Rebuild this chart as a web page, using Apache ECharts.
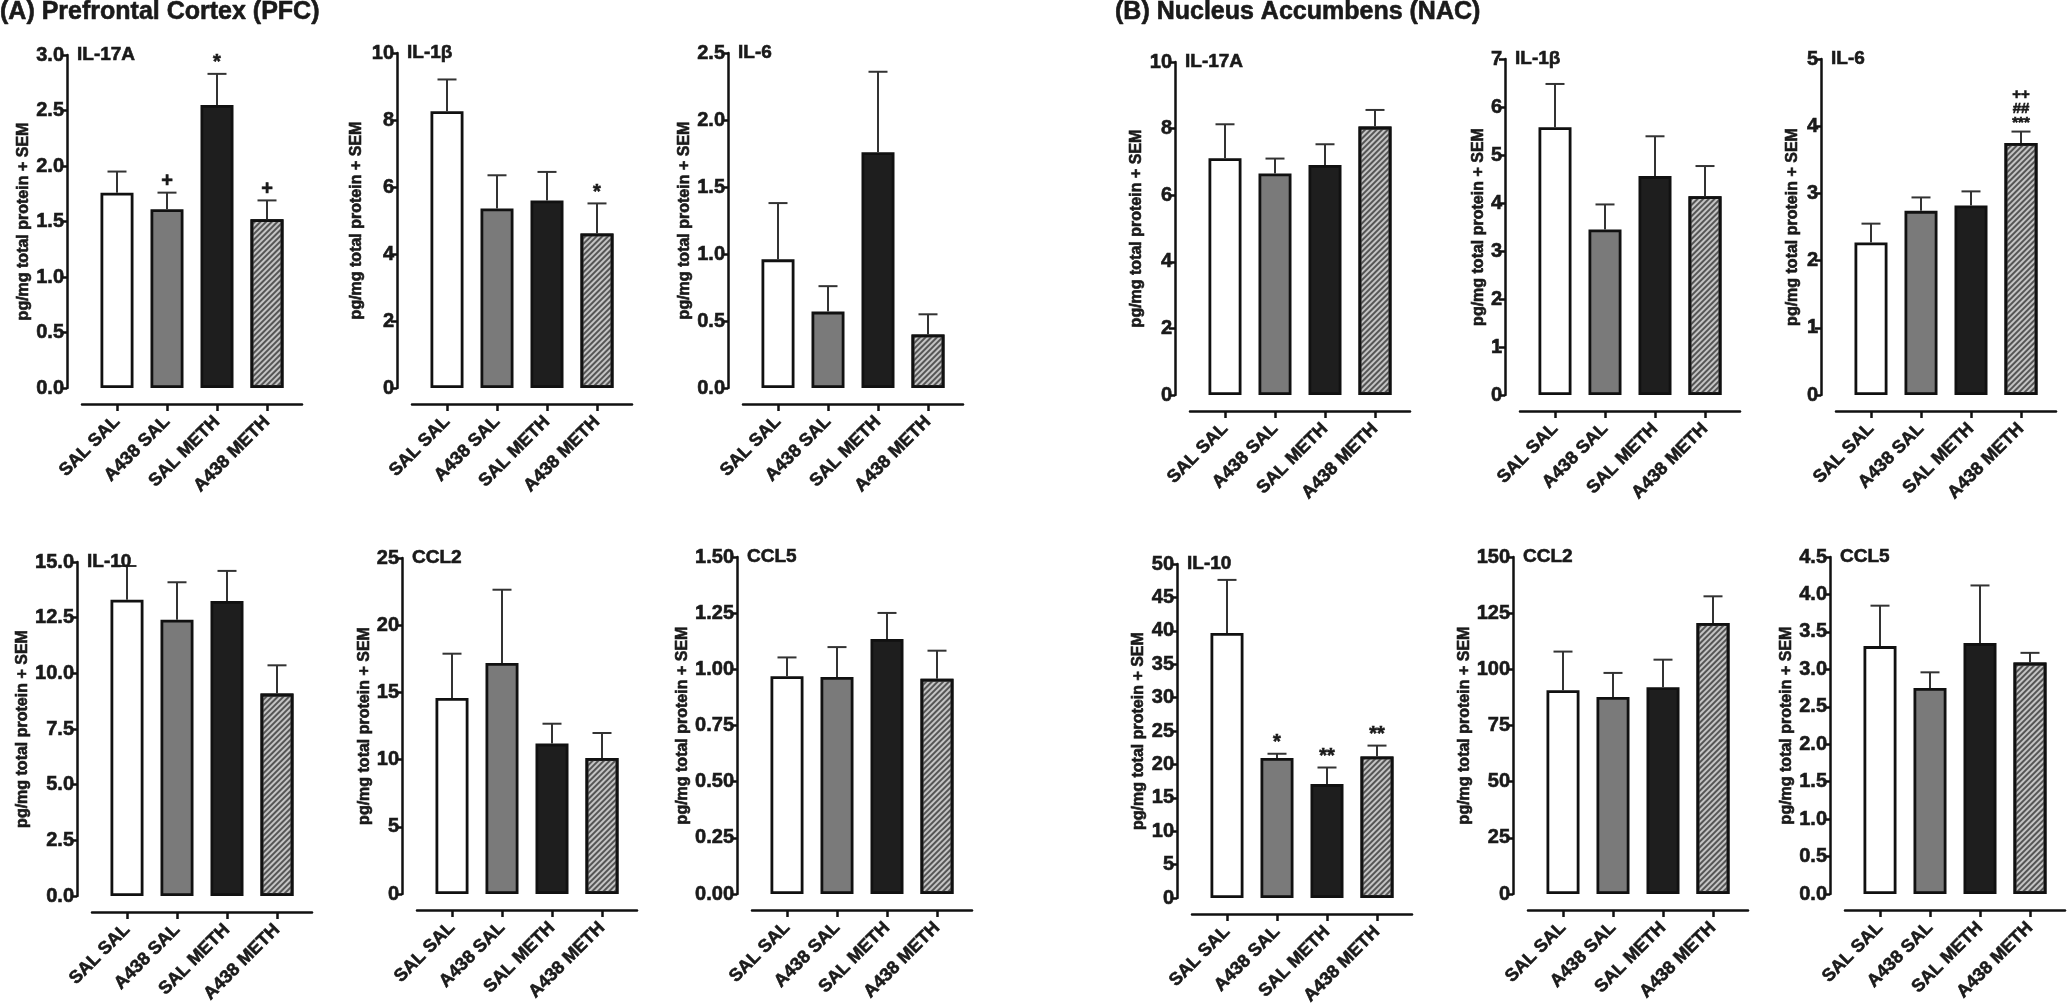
<!DOCTYPE html>
<html>
<head>
<meta charset="utf-8">
<script src="https://cdn.jsdelivr.net/npm/echarts@6/dist/echarts.min.js"></script>
<style>
html,body{margin:0;padding:0;background:#fff;}
#chart{width:2070px;height:1008px;}
</style>
</head>
<body>
<div id="chart"></div>
<script>
// ---------- DATA ----------
const groups = ['SAL SAL', 'A438 SAL', 'SAL METH', 'A438 METH'];
const yAxisName = 'pg/mg total protein + SEM';
const regionTitles = ['(A) Prefrontal Cortex (PFC)', '(B) Nucleus Accumbens (NAC)'];

// PFC
const pfcIL17A_mean = [1.76, 1.61, 2.55, 1.52];
const pfcIL17A_sem  = [0.19, 0.15, 0.28, 0.17];
const pfcIL17A_sig  = ['', '+', '*', '+'];
const pfcIL17A_axis = [0, 3, 0.5, 1];        // min, max, step, decimals

const pfcIL1b_mean = [8.26, 5.36, 5.60, 4.61];
const pfcIL1b_sem  = [0.95, 0.99, 0.85, 0.90];
const pfcIL1b_sig  = ['', '', '', '*'];
const pfcIL1b_axis = [0, 10, 2, 0];

const pfcIL6_mean = [0.96, 0.57, 1.76, 0.40];
const pfcIL6_sem  = [0.42, 0.19, 0.60, 0.15];
const pfcIL6_sig  = ['', '', '', ''];
const pfcIL6_axis = [0, 2.5, 0.5, 1];

const pfcIL10_mean = [13.31, 12.41, 13.25, 9.09];
const pfcIL10_sem  = [1.51, 1.68, 1.35, 1.27];
const pfcIL10_sig  = ['', '', '', ''];
const pfcIL10_axis = [0, 15, 2.5, 1];

const pfcCCL2_mean = [14.58, 17.19, 11.19, 10.12];
const pfcCCL2_sem  = [3.30, 5.45, 1.48, 1.86];
const pfcCCL2_sig  = ['', '', '', ''];
const pfcCCL2_axis = [0, 25, 5, 0];

const pfcCCL5_mean = [0.969, 0.966, 1.135, 0.958];
const pfcCCL5_sem  = [0.084, 0.133, 0.116, 0.125];
const pfcCCL5_sig  = ['', '', '', ''];
const pfcCCL5_axis = [0, 1.5, 0.25, 2];

// NAC
const nacIL17A_mean = [7.11, 6.65, 6.91, 8.06];
const nacIL17A_sem  = [1.02, 0.45, 0.62, 0.50];
const nacIL17A_sig  = ['', '', '', ''];
const nacIL17A_axis = [0, 10, 2, 0];

const nacIL1b_mean = [5.58, 3.45, 4.56, 4.14];
const nacIL1b_sem  = [0.90, 0.52, 0.83, 0.63];
const nacIL1b_sig  = ['', '', '', ''];
const nacIL1b_axis = [0, 7, 1, 0];

const nacIL6_mean = [2.27, 2.74, 2.82, 3.75];
const nacIL6_sem  = [0.28, 0.20, 0.21, 0.17];
const nacIL6_sig  = ['', '', '', '++\n##\n***'];
const nacIL6_axis = [0, 5, 1, 0];

const nacIL10_mean = [39.68, 20.98, 17.06, 21.18];
const nacIL10_sem  = [7.94, 0.62, 2.48, 1.64];
const nacIL10_sig  = ['', '*', '**', '**'];
const nacIL10_axis = [0, 50, 5, 0];

const nacCCL2_mean = [90.7, 87.7, 92.0, 120.6];
const nacCCL2_sem  = [17.2, 10.7, 12.3, 11.9];
const nacCCL2_sig  = ['', '', '', ''];
const nacCCL2_axis = [0, 150, 25, 0];

const nacCCL5_mean = [3.31, 2.75, 3.35, 3.09];
const nacCCL5_sem  = [0.54, 0.21, 0.77, 0.13];
const nacCCL5_sig  = ['', '', '', ''];
const nacCCL5_axis = [0, 4.5, 0.5, 1];

// ---------- LAYOUT ----------
const panels = [
  {name:'IL-17A', mean:pfcIL17A_mean, sem:pfcIL17A_sem, sig:pfcIL17A_sig, axis:pfcIL17A_axis, yx:67,   top:55,  bottom:388, gap:34},
  {name:'IL-1β',  mean:pfcIL1b_mean,  sem:pfcIL1b_sem,  sig:pfcIL1b_sig,  axis:pfcIL1b_axis,  yx:397,  top:53,  bottom:388, gap:32},
  {name:'IL-6',   mean:pfcIL6_mean,   sem:pfcIL6_sem,   sig:pfcIL6_sig,   axis:pfcIL6_axis,   yx:728,  top:53,  bottom:388, gap:31},
  {name:'IL-17A', mean:nacIL17A_mean, sem:nacIL17A_sem, sig:nacIL17A_sig, axis:nacIL17A_axis, yx:1175, top:62,  bottom:395, gap:30},
  {name:'IL-1β',  mean:nacIL1b_mean,  sem:nacIL1b_sem,  sig:nacIL1b_sig,  axis:nacIL1b_axis,  yx:1505, top:59,  bottom:395, gap:18},
  {name:'IL-6',   mean:nacIL6_mean,   sem:nacIL6_sem,   sig:nacIL6_sig,   axis:nacIL6_axis,   yx:1821, top:59,  bottom:395, gap:20},
  {name:'IL-10',  mean:pfcIL10_mean,  sem:pfcIL10_sem,  sig:pfcIL10_sig,  axis:pfcIL10_axis,  yx:77,   top:562, bottom:896, gap:45},
  {name:'CCL2',   mean:pfcCCL2_mean,  sem:pfcCCL2_sem,  sig:pfcCCL2_sig,  axis:pfcCCL2_axis,  yx:402,  top:558, bottom:894, gap:27},
  {name:'CCL5',   mean:pfcCCL5_mean,  sem:pfcCCL5_sem,  sig:pfcCCL5_sig,  axis:pfcCCL5_axis,  yx:737,  top:557, bottom:894, gap:42},
  {name:'IL-10',  mean:nacIL10_mean,  sem:nacIL10_sem,  sig:nacIL10_sig,  axis:nacIL10_axis,  yx:1177, top:564, bottom:900, gap:30},
  {name:'CCL2',   mean:nacCCL2_mean,  sem:nacCCL2_sem,  sig:nacCCL2_sig,  axis:nacCCL2_axis,  yx:1513, top:557, bottom:894, gap:39},
  {name:'CCL5',   mean:nacCCL5_mean,  sem:nacCCL5_sem,  sig:nacCCL5_sig,  axis:nacCCL5_axis,  yx:1830, top:557, bottom:894, gap:35}
];

const FONT = '"Liberation Sans", Arial, sans-serif';
const TXT = '#1a1a1a';
const HEAVY = {textBorderColor:TXT, textBorderWidth:0.6};
const barStyles = [
  {color:'#ffffff', borderColor:'#111', borderWidth:2.8},
  {color:'#7a7a7a', borderColor:'#111', borderWidth:2.8},
  {color:'#1e1e1e', borderColor:'#111', borderWidth:2.8},
  {color:'#c4c4c4', borderColor:'#111', borderWidth:2.8,
   decal:{symbol:'rect', symbolSize:1, dashArrayX:[1,0], dashArrayY:[2,2], rotation:-Math.PI/4, color:'#555555'}}
];

const grids = [], xAxes = [], yAxes = [], series = [], titles = [];

regionTitles.forEach((t, i) => titles.push({text:t, left:i === 0 ? 0 : 1115, top:0, padding:0,
  textStyle:Object.assign({fontFamily:FONT, fontSize:25, fontWeight:'bold', color:TXT}, HEAVY)}));

panels.forEach((p, k) => {
  grids.push({left:p.yx + 15, width:220, top:p.top, height:p.bottom - p.top, containLabel:false});
  xAxes.push({
    gridIndex:k, type:'value', min:-0.7, max:3.7, offset:16,
    splitLine:{show:false},
    axisLine:{show:true, onZero:false, lineStyle:{color:'#111', width:2.5}},
    axisTick:{show:true, customValues:[0,1,2,3], length:7, lineStyle:{color:'#111', width:2.5}},
    axisLabel:Object.assign({show:true, customValues:[0,1,2,3], rotate:45, margin:15,
      formatter:v => groups[Math.round(v)],
      fontFamily:FONT, fontSize:18, fontWeight:'bold', color:TXT}, HEAVY)
  });
  const dec = p.axis[3];
  yAxes.push({
    gridIndex:k, type:'value', min:p.axis[0], max:p.axis[1], interval:p.axis[2], offset:15,
    splitLine:{show:false},
    axisLine:{show:true, onZero:false, lineStyle:{color:'#111', width:2.5}},
    axisTick:{show:true, length:6, lineStyle:{color:'#111', width:2.5}},
    axisLabel:Object.assign({margin:3, formatter:v => v.toFixed(dec),
      fontFamily:FONT, fontSize:20, fontWeight:'bold', color:TXT}, HEAVY),
    name:yAxisName, nameLocation:'middle', nameGap:p.gap, nameRotate:90,
    nameTextStyle:Object.assign({fontFamily:FONT, fontSize:16, fontWeight:'bold', color:TXT}, HEAVY)
  });
  titles.push({text:p.name, left:p.yx + 10, top:p.top - 10, padding:0,
    textStyle:Object.assign({fontFamily:FONT, fontSize:19, fontWeight:'bold', color:TXT}, HEAVY)});

  series.push({
    type:'bar', xAxisIndex:k, yAxisIndex:k, barWidth:33,
    data:p.mean.map((m, i) => ({value:[i, m], itemStyle:barStyles[i]})),
    silent:true, z:2
  });
  const sig = p.sig;
  series.push({
    type:'custom', xAxisIndex:k, yAxisIndex:k, clip:false, z:3, silent:true,
    data:p.mean.map((m, i) => [i, m, p.sem[i]]),
    renderItem:(params, api) => {
      const x = api.value(0), m = api.value(1), s = api.value(2);
      const a = api.coord([x, m]);
      const b = api.coord([x, m + s]);
      const children = [
        {type:'line', shape:{x1:a[0], y1:a[1], x2:b[0], y2:b[1]}, style:{stroke:'#333', lineWidth:2}},
        {type:'line', shape:{x1:b[0]-9.5, y1:b[1], x2:b[0]+9.5, y2:b[1]}, style:{stroke:'#333', lineWidth:2}}
      ];
      const t = sig[params.dataIndex];
      if (t) {
        const multi = t.indexOf('\n') >= 0;
        children.push({type:'text', x:b[0], y:b[1] - (multi ? 2 : 1),
          style:{text:t, align:'center', verticalAlign:'bottom',
            font:'bold ' + (multi ? 15 : 20) + 'px ' + FONT,
            lineHeight: multi ? 14 : 20, fill:TXT, stroke:TXT, lineWidth:0.6}});
      }
      return {type:'group', children};
    }
  });
});

const chart = echarts.init(document.getElementById('chart'), null, {renderer:'canvas'});
chart.setOption({
  backgroundColor:'#ffffff',
  animation:false,
  title:titles,
  grid:grids,
  xAxis:xAxes,
  yAxis:yAxes,
  series:series
});
</script>
</body>
</html>
